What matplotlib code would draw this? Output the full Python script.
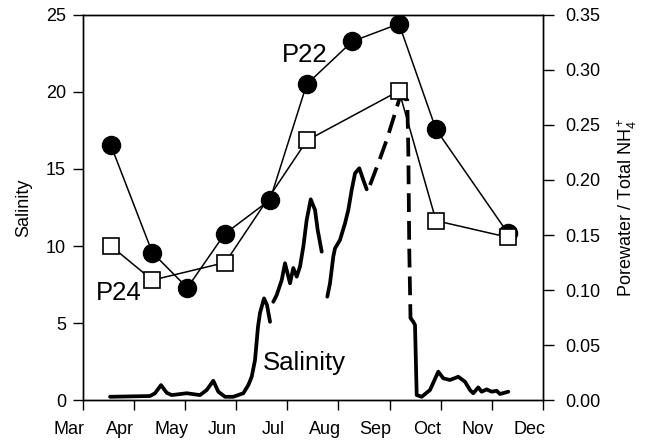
import matplotlib
matplotlib.use("Agg")
import matplotlib.pyplot as plt
import matplotlib.transforms as mtransforms

plt.rcParams['font.family'] = ['Liberation Sans', 'DejaVu Sans']
plt.rcParams['mathtext.default'] = 'regular'

#  DATA  (x = months since 1 Mar)
months = ['Mar', 'Apr', 'May', 'Jun', 'Jul', 'Aug', 'Sep', 'Oct', 'Nov', 'Dec']

p22_x = [0.547, 1.361, 2.045, 2.776, 3.662, 4.379, 5.271, 6.184, 6.908, 8.309]
p22_y = [0.232, 0.134, 0.102, 0.151, 0.182, 0.287, 0.326, 0.342, 0.246, 0.152]

p24_x = [0.553, 1.361, 2.788, 4.385, 6.184, 6.908, 8.309]
p24_y = [0.140, 0.109, 0.125, 0.236, 0.281, 0.163, 0.148]

# salinity record, broken into the pieces drawn in the figure
sal_a_x = [0.534, 1.316, 1.413, 1.531, 1.642, 1.740, 2.033, 2.293, 2.424, 2.553, 2.651,
           2.782, 2.944, 3.140, 3.238, 3.304, 3.369, 3.427, 3.466, 3.545, 3.603, 3.662]
sal_a_y = [0.21, 0.26, 0.44, 0.97, 0.47, 0.32, 0.44, 0.32, 0.65, 1.25, 0.54,
           0.21, 0.21, 0.44, 0.97, 1.51, 2.60, 4.76, 5.65, 6.60, 6.17, 5.08]

sal_b_x = [3.726, 3.793, 3.891, 3.955, 4.053, 4.117, 4.184, 4.248, 4.313, 4.379,
           4.458, 4.542, 4.594, 4.673]
sal_b_y = [6.38, 6.82, 7.79, 8.88, 7.58, 8.57, 8.01, 8.66, 9.95, 11.69,
           13.03, 12.34, 11.04, 9.63]

sal_c_x = [4.782, 4.835, 4.899, 4.933, 5.030, 5.128, 5.193, 5.259, 5.324, 5.408,
           5.474, 5.552]
sal_c_y = [6.71, 7.58, 9.31, 9.85, 10.39, 11.47, 12.34, 13.64, 14.72, 15.05,
           14.40, 13.68]

sal_gap_x = [5.617, 5.779, 5.943, 6.106, 6.203, 6.346, 6.366, 6.385, 6.409]
sal_gap_y = [13.96, 15.37, 16.88, 18.62, 19.68, 19.48, 16.23, 9.74, 5.32]

sal_e_x = [6.409, 6.463, 6.497, 6.530, 6.628, 6.790, 6.952, 7.050, 7.181, 7.343,
           7.474, 7.572, 7.636, 7.734, 7.800, 7.898, 7.996, 8.094, 8.158, 8.321]
sal_e_y = [5.32, 5.08, 4.87, 0.32, 0.21, 0.65, 1.84, 1.41, 1.30, 1.51,
           1.19, 0.65, 0.44, 0.82, 0.54, 0.69, 0.54, 0.60, 0.39, 0.54]

#  PLOT
fig = plt.figure(figsize=(6.54, 4.46), dpi=100)
ax = fig.add_axes([0.1265, 0.1031, 0.7038, 0.8633])
ax2 = ax.twinx()

sal_kw = dict(color='black', lw=2.7, solid_capstyle='round', solid_joinstyle='round')
for sx, sy in [(sal_a_x, sal_a_y), (sal_b_x, sal_b_y), (sal_c_x, sal_c_y), (sal_e_x, sal_e_y)]:
    ax.plot(sx, sy, **sal_kw)
ax.plot(sal_gap_x, sal_gap_y, color='black', lw=2.7, dashes=(5.0, 2.4))

ax2.plot(p22_x, p22_y, '-o', color='black', lw=1.1, ms=13,
         mfc='black', mec='black', zorder=3)
ax2.plot(p24_x, p24_y, '-s', color='black', lw=1.1, ms=11.5,
         mfc='white', mec='black', mew=1.2, zorder=4)

ax.text(3.896, 21.95, 'P22', fontsize=18.5, ha='left', va='baseline')
ax.text(0.26, 6.49, 'P24', fontsize=18.5, ha='left', va='baseline')
ax.text(3.525, 1.95, 'Salinity', fontsize=18.5, ha='left', va='baseline')

#  AXES
ax.set_xlim(0, 9)
ax.set_ylim(0, 25)
ax2.set_ylim(0, 0.35)
ax.set_xticks(range(len(months)))
ax.set_xticklabels(months)
ax.set_yticks([0, 5, 10, 15, 20, 25])
ax2.set_yticks([0, 0.05, 0.10, 0.15, 0.20, 0.25, 0.30, 0.35])
ax2.set_yticklabels([f'{v:.2f}' for v in ax2.get_yticks()])

ax.tick_params(axis='both', direction='out', length=7, width=1, labelsize=13, pad=5)
ax.tick_params(axis='x', pad=8)
ax2.tick_params(axis='y', direction='out', length=8, width=1, labelsize=13, pad=8)

shift = mtransforms.ScaledTranslation(-10 / 72, 0, fig.dpi_scale_trans)
for lbl in ax.get_xticklabels():
    lbl.set_transform(lbl.get_transform() + shift)

ax.set_ylabel('Salinity', fontsize=13, labelpad=10)
ax2.set_ylabel('Porewater / Total NH$_4^+$', fontsize=13, labelpad=11)

for a in (ax, ax2):
    for s in a.spines.values():
        s.set_linewidth(1)

fig.savefig('out.png', dpi=100)
